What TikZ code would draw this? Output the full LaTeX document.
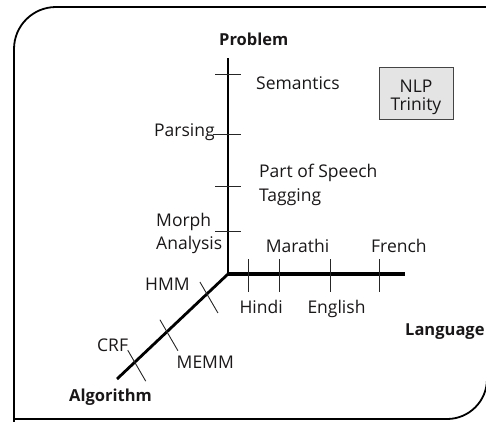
\documentclass[tikz,border=0pt]{standalone}
\usepackage{fontspec}
\setmainfont{Open Sans}
\usetikzlibrary{calc}
\definecolor{txt}{HTML}{1A1718}
\definecolor{boxfill}{HTML}{E4E4E4}
\definecolor{boxline}{HTML}{444444}
\tikzset{
  lbl/.style={anchor=base west, inner sep=0pt, text=txt, font=\fontsize{17.5}{17.5}\selectfont},
  blbl/.style={anchor=base west, inner sep=0pt, text=txt, font=\fontsize{16.5}{16.5}\selectfont\bfseries},
  axis/.style={line width=2.8pt, black},
  tickln/.style={line width=0.9pt, black!85},
  frame/.style={line width=1.8pt, black},
}
\begin{document}
\begin{tikzpicture}[x=1pt,y=-1pt]
\useasboundingbox (0,0) rectangle (486,421);
% frame
\draw[frame, rounded corners=42pt] (14,440) -- (14,7) -- (500,7);
\draw[frame, rounded corners=40pt] (14,419) -- (487,419) -- (487,300);
% axes
\coordinate (O) at (228,274);
\coordinate (P) at (228,58);
\coordinate (L) at (405,274);
\coordinate (A) at (117,379);
\draw[axis, line width=2.4pt] (O) -- (P);
\draw[axis, line width=3.2pt] ($(O)+(-1.5,0)$) -- (L);
\draw[axis] (O) -- (A);
% vertical ticks
\foreach \yy/\xa in {74.5/215, 134.5/213, 186/215, 231/215}
  \draw[tickln] (\xa,\yy) -- (241,\yy);
% horizontal ticks
\foreach \xx in {248,279,330,379}
  \draw[tickln] (\xx,259) -- (\xx,292);
% diagonal ticks
\foreach \tt in {0.19,0.55,0.84}
  \draw[tickln] ($(O)!\tt!(A)+(-7,-12)$) -- ($(O)!\tt!(A)+(11,19)$);
% labels
\node[blbl] (prob) at (219,45) {Problem};
\node[blbl] (lang) at (405,335) {Language};
\node[blbl] (alg) at (69,401.5) {Algorithm};
\node[lbl] (sem) at (256,89.3) {Semantics};
\node[lbl] (pars) at (154,136.7) {Parsing};
\node[lbl] (pos1) at (259,177.7) {Part of Speech};
\node[lbl] (pos2) at (259,201.7) {Tagging};
\node[lbl] (mor1) at (156,226) {Morph};
\node[lbl] (mor2) at (156,249.3) {Analysis};
\node[lbl] (mar) at (265.7,252.3) {Marathi};
\node[lbl] (fre) at (371,252.3) {French};
\node[lbl] (hin) at (239.3,313.3) {Hindi};
\node[lbl] (eng) at (307.3,313.3) {English};
\node[lbl] (hmm) at (145,290) {HMM};
\node[lbl] (crf) at (97,351) {CRF};
\node[lbl] (memm) at (176.5,368) {MEMM};
% NLP Trinity box
\draw[fill=boxfill, draw=boxline, line width=1pt] (379,67) rectangle (453,119);
\node[lbl, anchor=base] (nlp) at (416,92.7) {NLP};
\node[lbl, anchor=base] (tri) at (416,110) {Trinity};
\end{tikzpicture}
\end{document}
